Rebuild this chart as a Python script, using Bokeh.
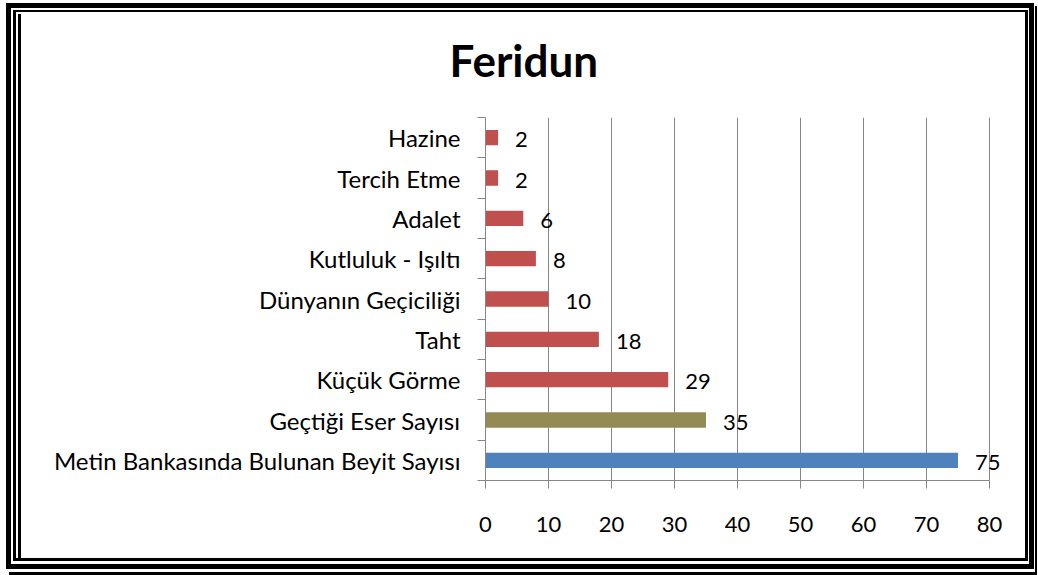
from bokeh.plotting import figure
from bokeh.models import Range1d, LinearAxis, FixedTicker, LabelSet, ColumnDataSource
from bokeh.core.properties import value
from bokeh.embed import file_html
from bokeh.resources import INLINE

# ---- data ----
categories = ["Metin Bankasında Bulunan Beyit Sayısı", "Geçtiği Eser Sayısı", "Küçük Görme",
              "Taht", "Dünyanın Geçiciliği", "Kutluluk - Işıltı", "Adalet", "Tercih Etme", "Hazine"]
values = [75, 35, 29, 18, 10, 8, 6, 2, 2]
bar_colors = ["#4F81BD", "#948A54", "#C0504D", "#C0504D", "#C0504D", "#C0504D", "#C0504D",
              "#C0504D", "#C0504D"]
x_ticks = [0, 10, 20, 30, 40, 50, 60, 70, 80]
title_text = "Feridun"

FONT = "Lato"
GRAY = "#868686"

n = len(categories)
ypos = [i + 0.5 for i in range(n)]
bounds_y = [float(i) for i in range(n + 1)]
src = ColumnDataSource(dict(y=ypos, val=values, color=bar_colors,
                            label=[str(v) for v in values]))

W, H = 1038, 575
p = figure(width=W, height=H, x_range=Range1d(0, 87.78), y_range=Range1d(0, n),
           x_axis_location="below", y_axis_location=None, title=title_text,
           output_backend="svg", toolbar_location=None,
           min_border_left=485, min_border_right=0, min_border_top=117, min_border_bottom=95)
p.outline_line_color = None
p.background_fill_color = None
p.border_fill_color = None

# title
p.title.align = "left"
p.title.offset = -36
p.title.standoff = 63
p.title.text_font = FONT
p.title.text_font_style = "bold"
p.title.text_font_size = "44px"
p.title.text_color = "black"

# x axis
xa = p.xaxis[0]
xa.ticker = FixedTicker(ticks=x_ticks)
xa.bounds = (0, 80)
xa.major_tick_out = 8
xa.major_tick_in = 0
xa.minor_tick_line_color = None
xa.axis_line_color = GRAY
xa.major_tick_line_color = GRAY
xa.major_label_text_font = FONT
xa.major_label_text_font_size = "22px"
xa.major_label_text_color = "black"
xa.major_label_standoff = 28

p.xgrid.ticker = FixedTicker(ticks=x_ticks)
p.xgrid.grid_line_color = GRAY
p.ygrid.visible = False

# y axis: labels at category centres, tick marks at category boundaries
ya = LinearAxis(ticker=FixedTicker(ticks=ypos, minor_ticks=bounds_y),
                major_label_overrides={y: c for y, c in zip(ypos, categories)},
                axis_line_color=GRAY, major_tick_line_color=None,
                major_tick_out=0, major_tick_in=0,
                minor_tick_line_color=GRAY, minor_tick_out=8, minor_tick_in=0,
                major_label_standoff=17, major_label_text_font=FONT,
                major_label_text_font_size="24px", major_label_text_color="black")
p.add_layout(ya, "left")

# bars
p.hbar(y="y", left=0, right="val", height=0.38, fill_color="color", line_color=None, source=src)

# data labels
p.add_layout(LabelSet(x="val", y="y", text="label", source=src, x_offset=17, y_offset=-2,
                      text_align="left", text_baseline="middle", text_font=value(FONT),
                      text_font_size=value("22px"), text_color="black"))

# framed border (Office-style double frame) drawn as CSS rectangles behind the canvas
rects = [
    (6, 3, 1028, 5), (6, 564, 1028, 5), (6, 3, 5, 566), (1029, 3, 5, 566),
    (1035, 6, 2, 569), (9, 572, 1028, 3),
    (13, 10, 1015, 2), (13, 558, 1015, 3), (13, 10, 3, 551), (1025, 10, 3, 551),
    (18, 14, 3, 544),
]
bg = ", ".join(f"linear-gradient(#000,#000) {x}px {y}px / {w}px {h}px no-repeat"
               for x, y, w, h in rects)
p.styles = {"background": bg + ", #ffffff"}

open("out.html", "w").write(file_html(p, INLINE))
